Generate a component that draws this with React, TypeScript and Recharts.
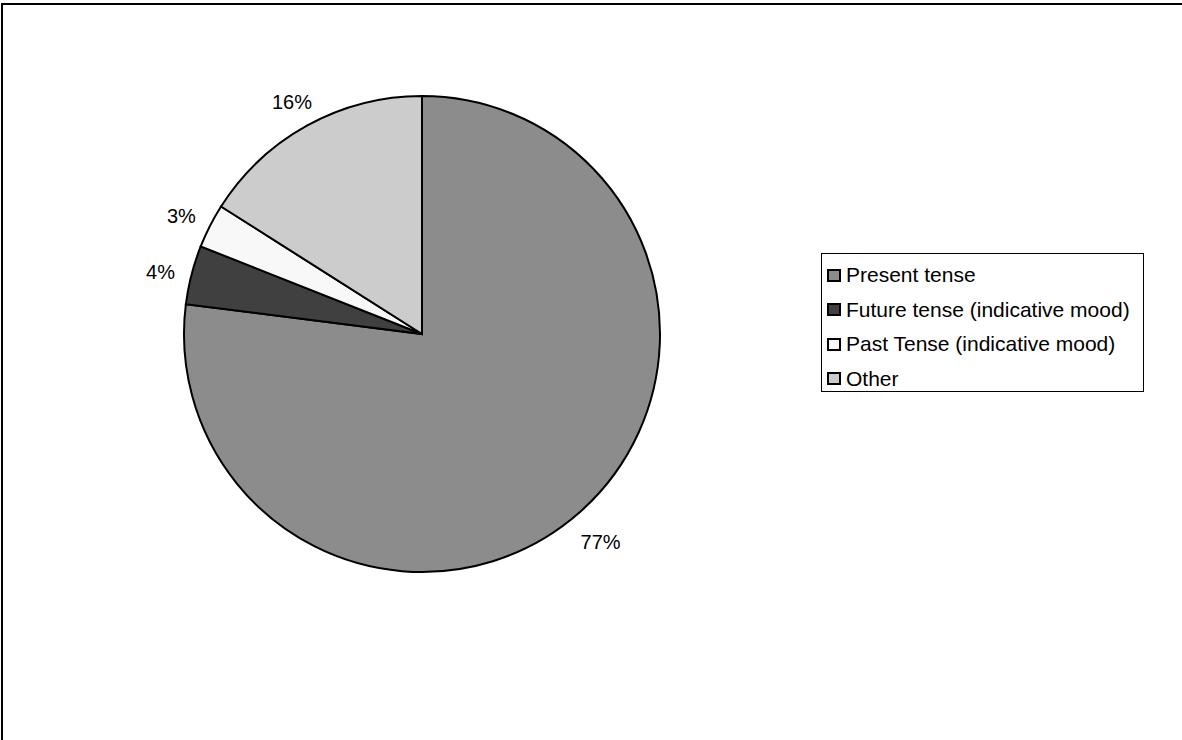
import { PieChart, Pie, Cell, Legend } from 'recharts';

const categories = [
  'Present tense',
  'Future tense (indicative mood)',
  'Past Tense (indicative mood)',
  'Other',
];
const shares = [77, 4, 3, 16];
const fills = ['#8c8c8c', '#404040', '#f8f8f8', '#cccccc'];

const FONT = '"Liberation Sans", Arial, sans-serif';
const RADIAN = Math.PI / 180;

const data = categories.map((name, i) => ({ name, value: shares[i] }));

// percentage labels sit just outside the rim, centred on each slice's mid angle
const renderLabel = (props: any) => {
  const { cx, cy, midAngle, outerRadius, value } = props;
  const r = outerRadius + 32;
  const x = cx + r * Math.cos(-midAngle * RADIAN);
  const y = cy + r * Math.sin(-midAngle * RADIAN) + 5;
  return (
    <text
      x={x}
      y={y}
      textAnchor="middle"
      dominantBaseline="central"
      fill="#000"
      fontSize={20}
      fontFamily={FONT}
    >
      {`${value}%`}
    </text>
  );
};

const LegendBox = () => (
  <div
    style={{
      border: '1px solid #000',
      background: '#fff',
      width: 323,
      height: 139,
      boxSizing: 'border-box',
      padding: '4px 0 0 5px',
      fontFamily: FONT,
      fontSize: 21,
      color: '#000',
    }}
  >
    {categories.map((name, i) => (
      <div key={name} style={{ display: 'flex', alignItems: 'center', height: 34.5 }}>
        <span
          style={{
            width: 14,
            height: 13,
            boxSizing: 'border-box',
            border: '2px solid #000',
            background: fills[i],
            marginRight: 5,
            flexShrink: 0,
          }}
        />
        <span>{name}</span>
      </div>
    ))}
  </div>
);

export default function App() {
  return (
    <div style={{ position: 'absolute', left: 0, top: 0, width: 1182, height: 740, background: '#fff' }}>
      <div
        style={{
          position: 'absolute',
          left: 1,
          top: 3,
          right: 0,
          bottom: 0,
          borderTop: '2px solid #000',
          borderLeft: '2px solid #000',
        }}
      />
      <PieChart width={1182} height={740} margin={{ top: 0, right: 0, bottom: 0, left: 0 }}>
        <Pie
          data={data}
          dataKey="value"
          nameKey="name"
          cx={422}
          cy={334}
          outerRadius={238}
          startAngle={90}
          endAngle={-270}
          stroke="#000"
          strokeWidth={2}
          label={renderLabel}
          labelLine={false}
          isAnimationActive={false}
        >
          {data.map((d, i) => (
            <Cell key={d.name} fill={fills[i]} stroke="#000" strokeWidth={2} />
          ))}
        </Pie>
        <Legend
          content={() => <LegendBox />}
          wrapperStyle={{ position: 'absolute', left: 821, top: 253, width: 323, height: 139 }}
        />
      </PieChart>
    </div>
  );
}
